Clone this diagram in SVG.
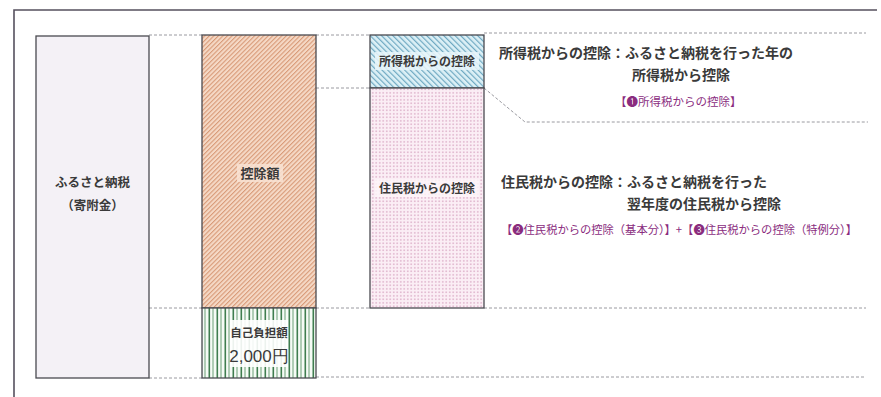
<svg xmlns="http://www.w3.org/2000/svg" width="881" height="397" viewBox="0 0 881 397">
<style>
.box{stroke:#4a4a50;stroke-width:1.3}
.dl{stroke:#9a9aa0;stroke-width:1;stroke-dasharray:3 2;fill:none}
.lbl{font-family:"Noto Sans CJK JP","Noto Sans",sans-serif;font-size:12px;font-weight:bold;fill:#3a3a3a;text-anchor:middle}
.main{font-family:"Noto Sans CJK JP","Noto Sans",sans-serif;font-size:14px;font-weight:bold;fill:#3a3a3a}
.sub{font-family:"Noto Sans CJK JP","Noto Sans",sans-serif;font-size:11.5px;fill:#8a2c7e}
</style>
<defs>
<pattern id="orange" width="3.2" height="3.2" patternUnits="userSpaceOnUse" patternTransform="rotate(45)">
<rect width="3.2" height="3.2" fill="#f5d9c6"/>
<rect width="1.1" height="3.2" fill="#d89a78"/>
</pattern>
<pattern id="blue" width="4" height="4" patternUnits="userSpaceOnUse" patternTransform="rotate(-45)">
<rect width="4" height="4" fill="#dcf0f6"/>
<rect width="1.2" height="4" fill="#6fa9c2"/>
</pattern>
<pattern id="pink" width="3.5" height="3.5" patternUnits="userSpaceOnUse">
<rect width="3.5" height="3.5" fill="#fbeef5"/>
<circle cx="1.75" cy="1.75" r="0.75" fill="#cf93b5"/>
</pattern>
<pattern id="green" width="8" height="10" patternUnits="userSpaceOnUse">
<rect width="8" height="10" fill="#f6fbf6"/>
<rect x="0.5" width="1.6" height="10" fill="#3f7d4f"/>
<rect x="4.5" width="1" height="10" fill="#6a9f76"/>
</pattern>
</defs>
<rect width="881" height="397" fill="#ffffff"/>
<path d="M14,397 V10 H877" fill="none" stroke="#55505e" stroke-width="1.6"/>

<g id="connectors">
<path class="dl" d="M149,35 H202"/>
<path class="dl" d="M316,35 H370"/>
<path class="dl" d="M484,33 H866"/>
<path class="dl" d="M316,88 H370"/>
<path class="dl" d="M484,88 L525,122 H868"/>
<path class="dl" d="M149,308 H202"/>
<path class="dl" d="M316,308 H370"/>
<path class="dl" d="M484,308 H866"/>
<path class="dl" d="M149,378 H202"/>
<path class="dl" d="M316,377 H866"/>
</g>

<g id="node-furusato">
<rect class="box" x="36" y="36" width="113" height="342" fill="#f4f1f6"/>
<text class="lbl" x="92.5" y="187" style="font-size:12.5px">ふるさと納税</text>
<text class="lbl" x="92.5" y="210" style="font-size:12.5px">（寄附金）</text>
</g>

<g id="node-koujo">
<rect class="box" x="202" y="35" width="114" height="273" fill="url(#orange)"/>
<rect x="237" y="164" width="46" height="18" fill="#f8e2d2" opacity="0.85"/>
<text class="lbl" x="260" y="178" style="font-size:13px">控除額</text>
</g>

<g id="node-jiko">
<rect class="box" x="202" y="308" width="114" height="70" fill="url(#green)"/>
<rect x="230" y="320" width="58" height="47" fill="#ffffff" opacity="0.9"/>
<text class="lbl" x="259" y="337" style="font-size:11.5px">自己負担額</text>
<text class="lbl" x="259" y="362" style="font-size:17px;font-weight:normal;font-family:'Liberation Sans','Noto Sans',sans-serif">2,000円</text>
</g>

<g id="node-shotoku">
<rect class="box" x="370" y="35" width="114" height="53" fill="url(#blue)"/>
<rect x="375" y="52" width="104" height="18" fill="#e9f6fa" opacity="0.85"/>
<text class="lbl" x="427" y="66">所得税からの控除</text>
</g>

<g id="node-jumin">
<rect class="box" x="370" y="88" width="114" height="220" fill="url(#pink)"/>
<rect x="375" y="179" width="104" height="18" fill="#fdf4f8" opacity="0.85"/>
<text class="lbl" x="427" y="193">住民税からの控除</text>
</g>

<g id="desc-shotoku">
<text class="main" x="499" y="58">所得税からの控除：ふるさと納税を行った年の</text>
<text class="main" x="632" y="80">所得税から控除</text>
<text class="sub" x="615" y="106">【❶所得税からの控除】</text>
</g>

<g id="desc-jumin">
<text class="main" x="501" y="187">住民税からの控除：ふるさと納税を行った</text>
<text class="main" x="627" y="209">翌年度の住民税から控除</text>
<text class="sub" x="501" y="234" textLength="356" lengthAdjust="spacingAndGlyphs">【❷住民税からの控除（基本分）】+【❸住民税からの控除（特例分）】</text>
</g>
</svg>
